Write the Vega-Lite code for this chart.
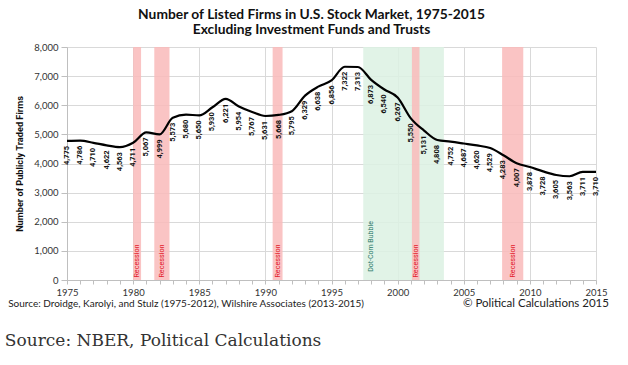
{
  "$schema": "https://vega.github.io/schema/vega-lite/v6.json",
  "width": 529,
  "height": 233,
  "autosize": {"type": "none"},
  "padding": {"left": 67, "top": 47, "right": 32, "bottom": 85},
  "background": "white",
  "config": {
    "view": {"stroke": null},
    "font": "Lato",
    "axis": {
      "labelFont": "Lato",
      "labelFontSize": 9.5,
      "labelColor": "#333333",
      "labelPadding": 3,
      "tickColor": "#bfbfbf",
      "domainColor": "#bfbfbf",
      "grid": true,
      "titleFont": "Roboto",
      "titleFontSize": 9.2,
      "titleFontWeight": "bold",
      "titleColor": "#111111"
    },
    "axisX": {
      "format": "d",
      "tickCount": 40,
      "labelExpr": "datum.value % 5 === 0 ? datum.label : ''",
      "labelFlush": false,
      "labelOverlap": false,
      "tickSize": 4,
      "gridColor": {"condition": {"test": "datum.value % 5 === 0", "value": "#d9d9d9"}, "value": "rgba(0,0,0,0)"}
    },
    "axisY": {
      "labelExpr": "format(datum.value, ',')",
      "tickCount": 8,
      "tickSize": 6,
      "gridColor": "#d9d9d9",
      "titlePadding": 9
    }
  },
  "title": {
    "text": ["Number of Listed Firms in U.S. Stock Market, 1975-2015", "Excluding Investment Funds and Trusts"],
    "font": "Lato",
    "fontSize": 13.8,
    "fontWeight": "bold",
    "color": "#111111",
    "anchor": "middle",
    "dx": -20,
    "offset": 5,
    "lineHeight": 15.5
  },
  "datasets": {
    "firms": [
      {"year": 1975, "firms": 4775}, {"year": 1976, "firms": 4786}, {"year": 1977, "firms": 4710},
      {"year": 1978, "firms": 4622}, {"year": 1979, "firms": 4563}, {"year": 1980, "firms": 4711},
      {"year": 1981, "firms": 5067}, {"year": 1982, "firms": 4999}, {"year": 1983, "firms": 5573},
      {"year": 1984, "firms": 5680}, {"year": 1985, "firms": 5650}, {"year": 1986, "firms": 5930},
      {"year": 1987, "firms": 6221}, {"year": 1988, "firms": 5954}, {"year": 1989, "firms": 5767},
      {"year": 1990, "firms": 5631}, {"year": 1991, "firms": 5668}, {"year": 1992, "firms": 5795},
      {"year": 1993, "firms": 6329}, {"year": 1994, "firms": 6638}, {"year": 1995, "firms": 6856},
      {"year": 1996, "firms": 7322}, {"year": 1997, "firms": 7313}, {"year": 1998, "firms": 6873},
      {"year": 1999, "firms": 6540}, {"year": 2000, "firms": 6267}, {"year": 2001, "firms": 5550},
      {"year": 2002, "firms": 5131}, {"year": 2003, "firms": 4808}, {"year": 2004, "firms": 4752},
      {"year": 2005, "firms": 4687}, {"year": 2006, "firms": 4620}, {"year": 2007, "firms": 4529},
      {"year": 2008, "firms": 4283}, {"year": 2009, "firms": 4007}, {"year": 2010, "firms": 3878},
      {"year": 2011, "firms": 3728}, {"year": 2012, "firms": 3605}, {"year": 2013, "firms": 3563},
      {"year": 2014, "firms": 3711}, {"year": 2015, "firms": 3710}
    ],
    "periods": [
      {"kind": "Dot-Com Bubble", "start": 1997.4, "end": 2003.5, "mid": 1998.0},
      {"kind": "Recession", "start": 1980.0, "end": 1980.6, "mid": 1980.3},
      {"kind": "Recession", "start": 1981.6, "end": 1982.75, "mid": 1982.17},
      {"kind": "Recession", "start": 1990.55, "end": 1991.3, "mid": 1990.92},
      {"kind": "Recession", "start": 2001.08, "end": 2001.65, "mid": 2001.36},
      {"kind": "Recession", "start": 2007.9, "end": 2009.5, "mid": 2008.7}
    ],
    "one": [{}]
  },
  "layer": [
    {
      "data": {"name": "periods"},
      "mark": {"type": "rect", "opacity": 0.85},
      "encoding": {
        "x": {
          "field": "start",
          "type": "quantitative",
          "scale": {"domain": [1975, 2015], "nice": false, "zero": false},
          "axis": {"title": null}
        },
        "x2": {"field": "end"},
        "y": {
          "datum": 0,
          "type": "quantitative",
          "scale": {"domain": [0, 8000], "nice": false},
          "axis": {"title": "Number of Publicly Traded Firms"}
        },
        "y2": {"datum": 8000},
        "color": {"field": "kind", "type": "nominal", "scale": {"domain": ["Dot-Com Bubble", "Recession"], "range": ["#dcf1e3", "#f9baba"]}, "legend": null}
      }
    },
    {
      "data": {"name": "periods"},
      "transform": [{"filter": "datum.kind === 'Recession'"}],
      "mark": {"type": "text", "angle": 270, "align": "center", "baseline": "middle", "font": "Roboto", "fontSize": 7.2, "color": "#e3202b"},
      "encoding": {
        "x": {"field": "mid", "type": "quantitative"},
        "y": {"datum": 650, "type": "quantitative"},
        "text": {"field": "kind"}
      }
    },
    {
      "data": {"name": "periods"},
      "transform": [{"filter": "datum.kind === 'Dot-Com Bubble'"}],
      "mark": {"type": "text", "angle": 270, "align": "center", "baseline": "middle", "font": "Roboto", "fontSize": 7, "color": "#2a7868"},
      "encoding": {
        "x": {"field": "mid", "type": "quantitative"},
        "y": {"datum": 1150, "type": "quantitative"},
        "text": {"field": "kind"}
      }
    },
    {
      "data": {"name": "firms"},
      "mark": {"type": "line", "color": "#000000", "strokeWidth": 2.2, "interpolate": "monotone"},
      "encoding": {
        "x": {"field": "year", "type": "quantitative"},
        "y": {"field": "firms", "type": "quantitative"}
      }
    },
    {
      "data": {"name": "firms"},
      "mark": {"type": "text", "angle": 270, "align": "right", "baseline": "middle", "dx": -5, "font": "Roboto", "fontSize": 7.5, "fontWeight": "bold", "color": "#111111"},
      "encoding": {
        "x": {"field": "year", "type": "quantitative"},
        "y": {"field": "firms", "type": "quantitative"},
        "text": {"field": "firms", "type": "quantitative", "format": ","}
      }
    },
    {
      "data": {"name": "one"},
      "mark": {"type": "text", "text": "Source: Droidge, Karolyi, and Stulz (1975-2012), Wilshire Associates (2013-2015)", "align": "left", "baseline": "middle", "font": "Lato", "fontSize": 10, "color": "#222222"},
      "encoding": {
        "x": {"datum": 1970.55, "type": "quantitative"},
        "y": {"datum": -824, "type": "quantitative"}
      }
    },
    {
      "data": {"name": "one"},
      "mark": {"type": "text", "text": "© Political Calculations 2015", "align": "right", "baseline": "middle", "font": "Lato", "fontSize": 11.5, "color": "#222222"},
      "encoding": {
        "x": {"datum": 2015.98, "type": "quantitative"},
        "y": {"datum": -824, "type": "quantitative"}
      }
    },
    {
      "data": {"name": "one"},
      "mark": {"type": "text", "text": "Source: NBER, Political Calculations", "align": "left", "baseline": "middle", "font": "DejaVu Serif", "fontSize": 17, "color": "#333333"},
      "encoding": {
        "x": {"datum": 1970.3, "type": "quantitative"},
        "y": {"datum": -2094, "type": "quantitative"}
      }
    }
  ]
}
